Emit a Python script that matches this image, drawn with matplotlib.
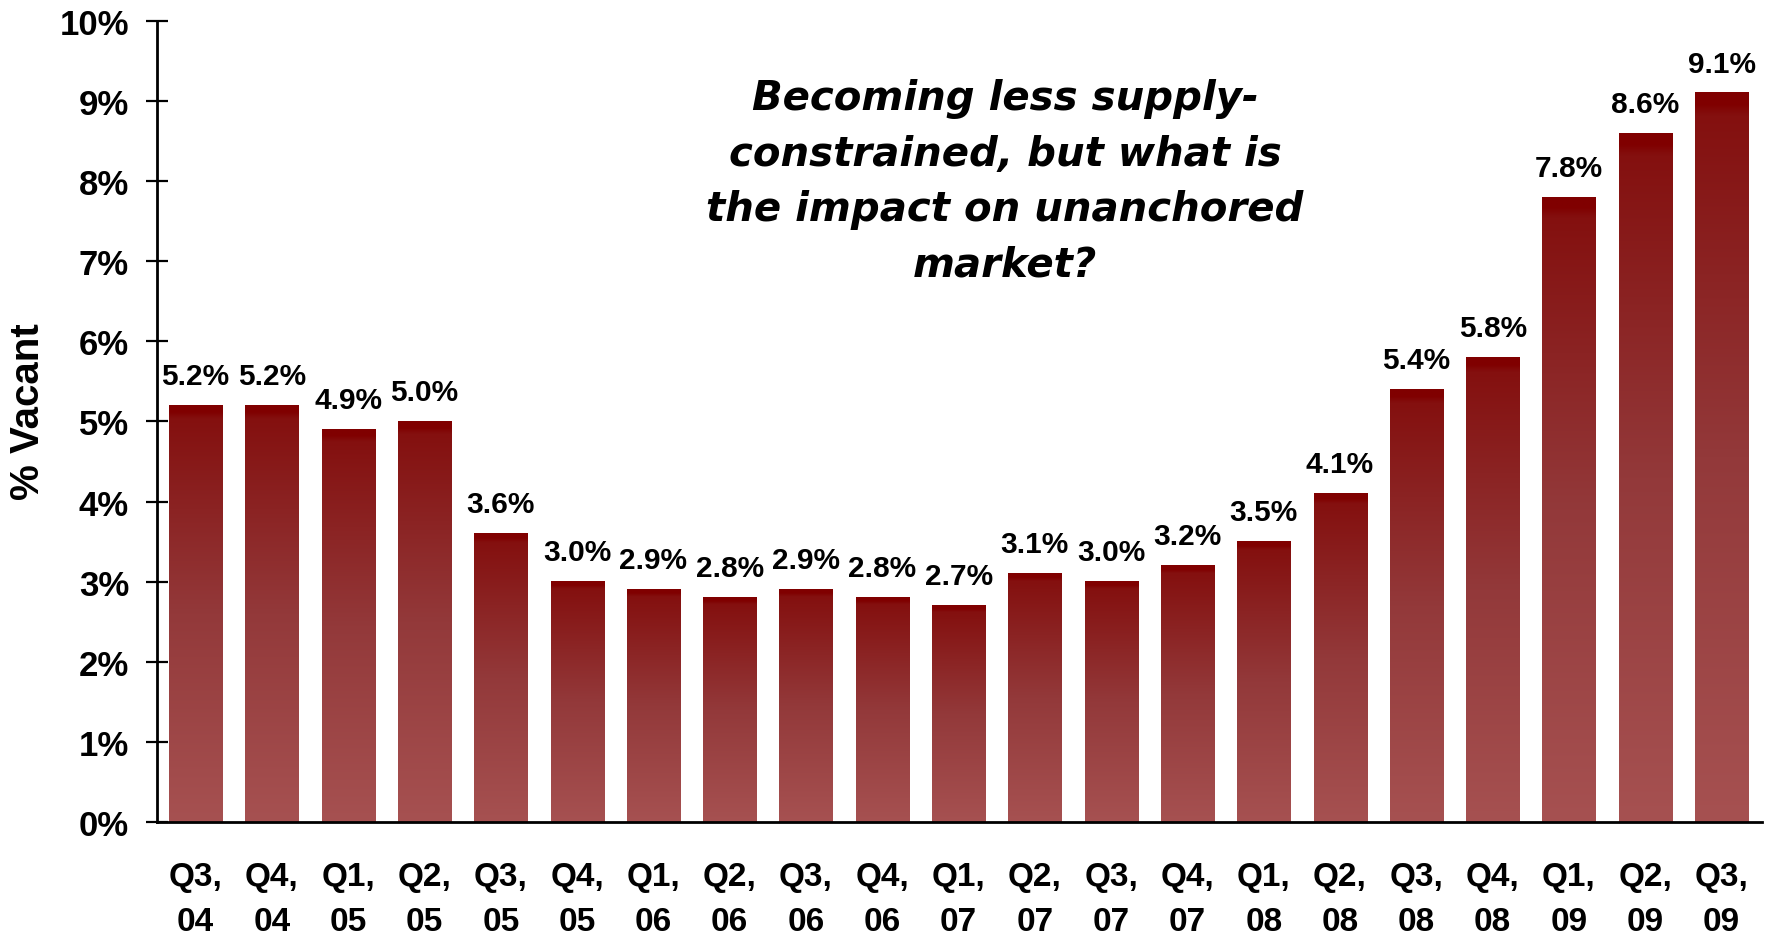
import numpy as np
import matplotlib
matplotlib.use('Agg')
import matplotlib.pyplot as plt
from matplotlib.colors import LinearSegmentedColormap

# ---- data ----
quarters = ["Q3,\n04", "Q4,\n04", "Q1,\n05", "Q2,\n05", "Q3,\n05", "Q4,\n05",
            "Q1,\n06", "Q2,\n06", "Q3,\n06", "Q4,\n06", "Q1,\n07", "Q2,\n07",
            "Q3,\n07", "Q4,\n07", "Q1,\n08", "Q2,\n08", "Q3,\n08", "Q4,\n08",
            "Q1,\n09", "Q2,\n09", "Q3,\n09"]
vacancy = [5.2, 5.2, 4.9, 5.0, 3.6, 3.0, 2.9, 2.8, 2.9, 2.8, 2.7, 3.1,
           3.0, 3.2, 3.5, 4.1, 5.4, 5.8, 7.8, 8.6, 9.1]
y_ticks = [0, 1, 2, 3, 4, 5, 6, 7, 8, 9, 10]
y_label = "% Vacant"
annotation = ("Becoming less supply-\nconstrained, but what is\n"
              "the impact on unanchored\nmarket?")

plt.rcParams['font.family'] = ['Liberation Sans', 'DejaVu Sans']

fig = plt.figure(figsize=(17.71, 9.37), dpi=100)
ax = fig.add_axes([0.0887, 0.1217, 0.9062, 0.855])

x = np.arange(len(vacancy))
bars = ax.bar(x, vacancy, width=0.695, color='none', edgecolor='none', zorder=2)

cmap = LinearSegmentedColormap.from_list(
    'bar', [(0.0, '#a65151'), (0.5, '#93393a'), (0.97, '#84100f'),
            (0.985, '#800000'), (1.0, '#800000')])
grad = np.linspace(0, 1, 256).reshape(-1, 1)
for b in bars:
    x0, w, h = b.get_x(), b.get_width(), b.get_height()
    ax.imshow(grad, extent=[x0, x0 + w, 0, h], origin='lower', cmap=cmap,
              aspect='auto', zorder=2, interpolation='bilinear')

for xi, v in zip(x, vacancy):
    ax.annotate(f"{v:.1f}%", (xi, v), xytext=(0, 11), textcoords='offset points',
                ha='center', va='bottom', fontsize=21.5, fontweight='bold')

ax.set_xlim(-0.505, 20.53)
ax.set_ylim(0, 10)
ax.set_xticks(x)
ax.set_xticklabels(quarters, fontsize=24, fontweight='bold', linespacing=1.6)
ax.set_yticks(y_ticks)
ax.set_yticklabels([f"{t}%" for t in y_ticks], fontsize=25, fontweight='bold')
ax.tick_params(axis='x', length=0, pad=28)
ax.tick_params(axis='y', direction='inout', length=16.5, width=1.6, pad=12)
for s in ['top', 'right']:
    ax.spines[s].set_visible(False)
for s in ['left', 'bottom']:
    ax.spines[s].set_linewidth(2)
    ax.spines[s].set_color('black')

fig.text(0.0158, 1 - 412 / 937, y_label, rotation=90, ha='center', va='center',
         fontsize=29, fontweight='bold')

fig.text(0.5675, 0.805, annotation, ha='center', va='center', fontsize=29,
         fontweight='bold', style='italic', family=['DejaVu Sans'],
         linespacing=1.5)

fig.savefig('out.png', dpi=100)
